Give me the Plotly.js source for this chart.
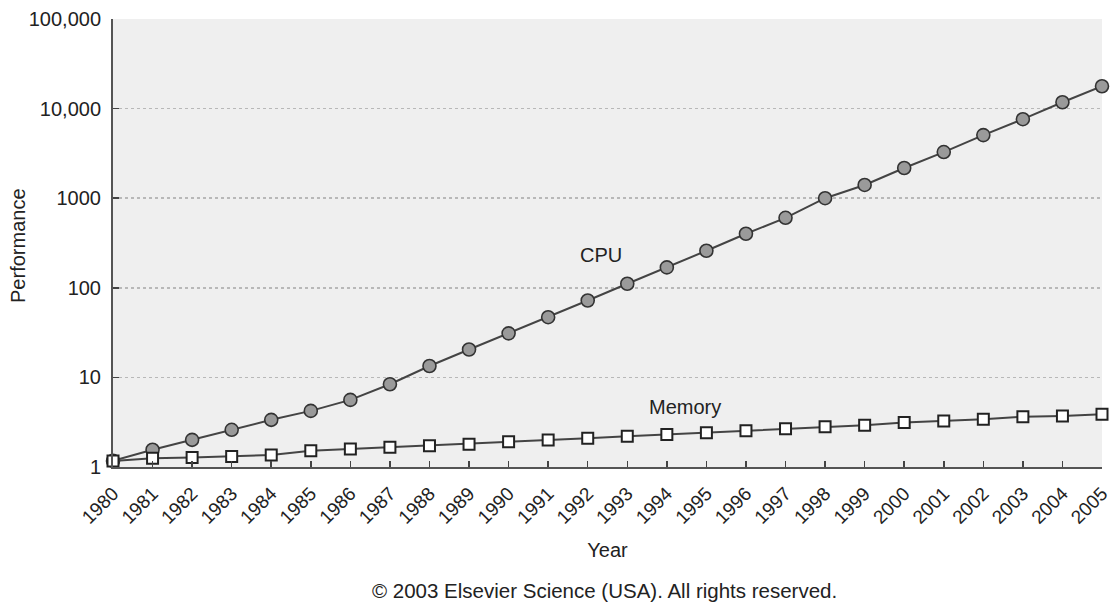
<!DOCTYPE html>
<html>
<head>
<meta charset="utf-8">
<script src="https://cdn.plot.ly/plotly-3.0.1.min.js"></script>
<style>
  html, body { margin: 0; padding: 0; background: #ffffff; }
  #chart { width: 1113px; height: 603px; }
</style>
</head>
<body>
<div id="chart"></div>
<script>
// Years on the horizontal axis
const years = [1980, 1981, 1982, 1983, 1984, 1985, 1986, 1987, 1988, 1989,
               1990, 1991, 1992, 1993, 1994, 1995, 1996, 1997, 1998, 1999,
               2000, 2001, 2002, 2003, 2004, 2005];
const yearLabels = years.map(String);

// Relative performance (1980 baseline)
const cpuPerf = [1.17, 1.56, 2.01, 2.6, 3.36, 4.23, 5.61, 8.38, 13.4, 20.5,
                 31.0, 47.0, 72.1, 111, 169, 259, 401, 604, 1000, 1406,
                 2173, 3272, 5060, 7620, 11780, 17750];
const memPerf = [1.17, 1.25, 1.28, 1.31, 1.36, 1.52, 1.59, 1.66, 1.73, 1.80,
                 1.91, 2.0, 2.10, 2.20, 2.31, 2.41, 2.54, 2.67, 2.81, 2.93,
                 3.14, 3.27, 3.42, 3.63, 3.72, 3.89];

// Logarithmic axis ticks
const perfTickVals = [1, 10, 100, 1000, 10000, 100000];
const perfTickText = ['1', '10', '100', '1000', '10,000', '100,000'];

const FONT = 'Liberation Sans, Arial, Helvetica, sans-serif';
const INK = '#222222';

const cpuTrace = {
  x: years, y: cpuPerf, type: 'scatter', mode: 'lines+markers',
  name: 'CPU', cliponaxis: false,
  line: { color: '#444444', width: 2 },
  marker: { symbol: 'circle', size: 13, color: '#9a9a9a',
            line: { color: '#333333', width: 1.6 } }
};
const memTrace = {
  x: years, y: memPerf, type: 'scatter', mode: 'lines+markers',
  name: 'Memory', cliponaxis: false,
  line: { color: '#444444', width: 2 },
  marker: { symbol: 'square', size: 11, color: '#ffffff',
            line: { color: '#222222', width: 2 } }
};

const layout = {
  width: 1113, height: 603,
  margin: { l: 113, r: 11, t: 19, b: 136 },
  paper_bgcolor: '#ffffff',
  plot_bgcolor: '#efefef',
  showlegend: false,
  font: { family: FONT, color: INK, size: 20 },
  xaxis: {
    range: [1980, 2005],
    tickvals: years, ticktext: yearLabels,
    tickangle: -45,
    ticks: 'inside', ticklen: 6, tickwidth: 1.5, tickcolor: '#444444',
    showline: true, linecolor: '#555555', linewidth: 2,
    showgrid: false, zeroline: false,
    ticklabelstandoff: 6,
    tickfont: { family: FONT, size: 19, color: INK },
    title: { text: 'Year', font: { family: FONT, size: 20, color: INK }, standoff: 16 }
  },
  yaxis: {
    type: 'log', range: [0, 5],
    tickvals: perfTickVals, ticktext: perfTickText,
    ticks: 'inside', ticklen: 6, tickwidth: 1.5, tickcolor: '#444444',
    showline: true, linecolor: '#555555', linewidth: 2,
    showgrid: true, gridcolor: '#b8b8b8', gridwidth: 1.5, griddash: 'dot',
    zeroline: false,
    ticklabelstandoff: 6,
    tickfont: { family: FONT, size: 20, color: INK }
  },
  annotations: [
    // vertical axis caption
    { x: -0.0961, y: 0.4955, xref: 'paper', yref: 'paper', xanchor: 'center', yanchor: 'middle',
      text: 'Performance', textangle: -90, showarrow: false,
      font: { family: FONT, size: 20, color: INK } },
    { x: 1992.34, y: 2.37, xref: 'x', yref: 'y', text: 'CPU', showarrow: false,
      font: { family: FONT, size: 20, color: INK } },
    { x: 1994.45, y: 0.667, xref: 'x', yref: 'y', text: 'Memory', showarrow: false,
      font: { family: FONT, size: 20, color: INK } },
    { x: 0.4965, y: -0.2746, xref: 'paper', yref: 'paper', xanchor: 'center', yanchor: 'middle',
      text: '© 2003 Elsevier Science (USA). All rights reserved.', showarrow: false,
      font: { family: FONT, size: 20.5, color: INK } }
  ]
};

Plotly.newPlot('chart', [cpuTrace, memTrace], layout, { staticPlot: true, displayModeBar: false });
</script>
</body>
</html>
